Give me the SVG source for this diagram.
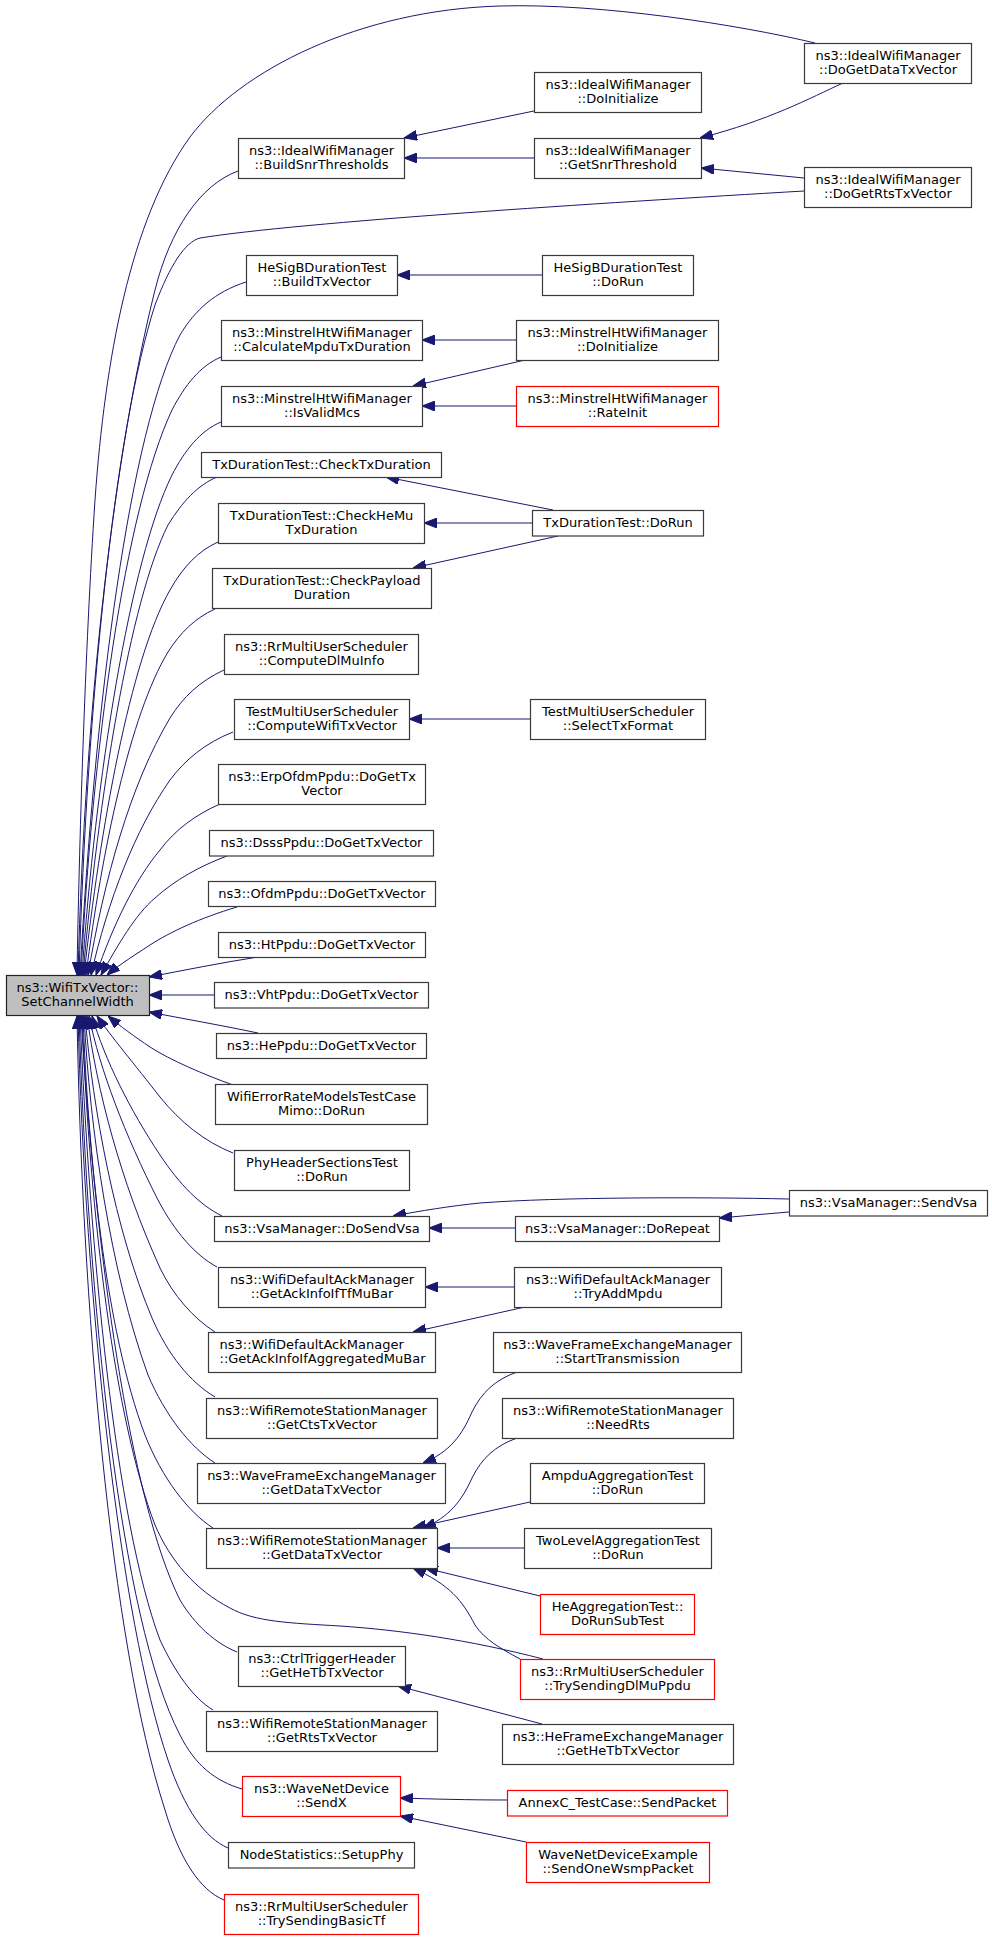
<svg xmlns="http://www.w3.org/2000/svg" width="992" height="1939" viewBox="0 0 992 1939">
<defs>
<marker id="arr" viewBox="0 0 13 10" refX="13" refY="5" markerWidth="13" markerHeight="10" markerUnits="userSpaceOnUse" orient="auto">
<path d="M0,0 L13,5 L0,10 z" fill="#191970" stroke="#191970" stroke-width="1"/>
</marker>
<style>
rect{fill:#ffffff;stroke:#3a3a3a;stroke-width:1.2}
.red rect{stroke:#ff0000}
.gray rect{fill:#bfbfbf;stroke:#222222}
text{font-family:"DejaVu Sans","Noto Sans",sans-serif;font-size:13px;text-anchor:middle;fill:#000000}
.l text{text-anchor:start}
#edges path{fill:none;stroke:#191970;stroke-width:1;marker-end:url(#arr)}
</style>
</defs>
<rect x="0" y="0" width="992" height="1939" style="fill:#ffffff;stroke:none"/>
<g id="edges">
<path d="M815,43 C740,25 600,3 500,6 C360,10 240,70 190,137 C130,220 105,360 95,500 C85,650 79,850 77,975"/>
<path d="M238,171 C200,185 170,230 155,290 C115,450 85,700 78,975"/>
<path d="M804,191 C600,203 300,222 200,238 C185,242 170,265 155,305 C115,430 87,700 79,975"/>
<path d="M246,282 C215,292 195,310 180,335 C130,430 95,700 80,975"/>
<path d="M221,357 C200,366 185,385 172,410 C125,510 92,750 81,975"/>
<path d="M221,422 C200,431 185,450 172,475 C130,560 95,780 82,975"/>
<path d="M217,477 C198,485 182,502 168,525 C130,600 98,800 83,975"/>
<path d="M218,542 C198,551 183,567 170,590 C130,660 100,830 84,975"/>
<path d="M215,609 C195,618 180,633 168,652 C130,715 102,850 86,975"/>
<path d="M224,670 C200,681 183,697 170,718 C130,785 104,880 88,975"/>
<path d="M233,732 C205,743 185,760 170,780 C135,830 108,900 91,975"/>
<path d="M220,804 C195,815 175,830 160,850 C135,880 113,925 96,975"/>
<path d="M227,856 C200,866 175,880 155,898 C135,915 118,945 101,975"/>
<path d="M237,907 C200,918 170,932 150,945 C130,958 115,968 107,975"/>
<path d="M258,957 C220,963 185,970 149,977"/>
<path d="M214,995 L149,995"/>
<path d="M258,1033 C220,1025 185,1019 149,1012"/>
<path d="M233,1085 C205,1075 170,1060 150,1047 C135,1037 120,1026 108,1016"/>
<path d="M233,1153 C205,1142 180,1122 160,1097 C135,1065 110,1035 97,1016"/>
<path d="M222,1216 C200,1205 180,1185 160,1155 C130,1110 105,1060 92,1016"/>
<path d="M217,1267 C195,1255 175,1232 158,1200 C125,1135 100,1070 89,1016"/>
<path d="M215,1332 C193,1318 173,1295 160,1268 C120,1180 97,1090 87,1016"/>
<path d="M215,1397 C190,1382 168,1355 152,1318 C115,1230 93,1110 85,1016"/>
<path d="M215,1463 C190,1447 165,1415 148,1375 C110,1270 90,1130 84,1016"/>
<path d="M213,1528 C188,1512 162,1478 145,1435 C105,1330 88,1150 83,1016"/>
<path d="M543,1659 C470,1640 400,1630 340,1626 C290,1623 255,1622 230,1608 C195,1590 170,1560 155,1525 C115,1420 90,1220 82,1016"/>
<path d="M237,1652 C215,1643 195,1625 180,1600 C130,1500 95,1250 81,1016"/>
<path d="M213,1710 C193,1698 175,1672 160,1640 C115,1520 90,1250 80,1016"/>
<path d="M242,1789 C215,1781 195,1765 180,1735 C120,1620 88,1300 79,1016"/>
<path d="M228,1848 C205,1838 185,1810 168,1760 C120,1620 85,1300 78,1016"/>
<path d="M224,1900 C200,1890 180,1860 165,1810 C110,1640 82,1300 77,1016"/>
<path d="M534,111 L404,138"/>
<path d="M534,158 L404,158"/>
<path d="M843,83 C810,98 770,120 700,138"/>
<path d="M804,178 L701,168"/>
<path d="M542,275 L397,275"/>
<path d="M516,340 L422,340"/>
<path d="M525,360 L413,386"/>
<path d="M516,406 L422,406"/>
<path d="M553,510 L386,477"/>
<path d="M532,523 L424,523"/>
<path d="M558,536 L413,568"/>
<path d="M530,719 L409,719"/>
<path d="M789,1199 C700,1197 560,1197 480,1203 C450,1206 420,1211 393,1216"/>
<path d="M515,1228 L429,1228"/>
<path d="M789,1212 L719,1218"/>
<path d="M514,1287 L425,1287"/>
<path d="M525,1307 L413,1332"/>
<path d="M517,1372 C495,1380 482,1392 472,1412 C462,1435 450,1452 423,1463"/>
<path d="M517,1438 C495,1446 482,1458 472,1478 C462,1500 450,1517 423,1528"/>
<path d="M530,1502 L413,1528"/>
<path d="M524,1548 L437,1548"/>
<path d="M540,1596 L425,1568"/>
<path d="M520,1659 C500,1648 485,1640 475,1625 C462,1600 450,1585 413,1568"/>
<path d="M542,1724 L398,1686"/>
<path d="M507,1800 C470,1800 430,1799 400,1798"/>
<path d="M526,1842 L400,1816"/>
</g>
<g id="nodes" transform="translate(0.5,0.5)">
<g id="n_setchannelwidth" class="gray"><rect x="6" y="975" width="143" height="40"/><text x="77" y="991.5">ns3::WifiTxVector::</text><text x="77" y="1005">SetChannelWidth</text></g>
<g id="n_idealdogetdata"><rect x="804" y="43" width="167" height="40"/><text x="887.5" y="59.5">ns3::IdealWifiManager</text><text x="887.5" y="73">::DoGetDataTxVector</text></g>
<g id="n_idealdoinit"><rect x="534" y="72" width="167" height="40"/><text x="617.5" y="88.5">ns3::IdealWifiManager</text><text x="617.5" y="102">::DoInitialize</text></g>
<g id="n_buildsnr"><rect x="238" y="138" width="166" height="40"/><text x="321" y="154.5">ns3::IdealWifiManager</text><text x="321" y="168">::BuildSnrThresholds</text></g>
<g id="n_getsnr"><rect x="534" y="138" width="167" height="40"/><text x="617.5" y="154.5">ns3::IdealWifiManager</text><text x="617.5" y="168">::GetSnrThreshold</text></g>
<g id="n_idealdogetrts"><rect x="804" y="167" width="167" height="40"/><text x="887.5" y="183.5">ns3::IdealWifiManager</text><text x="887.5" y="197">::DoGetRtsTxVector</text></g>
<g id="n_hesigbbuild"><rect x="246" y="255" width="151" height="40"/><text x="321.5" y="271.5">HeSigBDurationTest</text><text x="321.5" y="285">::BuildTxVector</text></g>
<g id="n_hesigbdorun"><rect x="542" y="255" width="151" height="40"/><text x="617.5" y="271.5">HeSigBDurationTest</text><text x="617.5" y="285">::DoRun</text></g>
<g id="n_calcmpdu"><rect x="221" y="320" width="201" height="40"/><text x="321.5" y="336.5">ns3::MinstrelHtWifiManager</text><text x="321.5" y="350">::CalculateMpduTxDuration</text></g>
<g id="n_minstreldoinit"><rect x="516" y="320" width="202" height="40"/><text x="617" y="336.5">ns3::MinstrelHtWifiManager</text><text x="617" y="350">::DoInitialize</text></g>
<g id="n_isvalidmcs"><rect x="221" y="386" width="201" height="40"/><text x="321.5" y="402.5">ns3::MinstrelHtWifiManager</text><text x="321.5" y="416">::IsValidMcs</text></g>
<g id="n_rateinit" class="red"><rect x="516" y="386" width="202" height="40"/><text x="617" y="402.5">ns3::MinstrelHtWifiManager</text><text x="617" y="416">::RateInit</text></g>
<g id="n_checktx"><rect x="201" y="452" width="240" height="25"/><text x="321" y="468">TxDurationTest::CheckTxDuration</text></g>
<g id="n_checkhemu"><rect x="218" y="503" width="206" height="40"/><text x="321" y="519.5">TxDurationTest::CheckHeMu</text><text x="321" y="533">TxDuration</text></g>
<g id="n_txdorun"><rect x="532" y="510" width="171" height="25.5"/><text x="617.5" y="526">TxDurationTest::DoRun</text></g>
<g id="n_checkpayload"><rect x="212" y="568" width="219" height="40"/><text x="321.5" y="584.5">TxDurationTest::CheckPayload</text><text x="321.5" y="598">Duration</text></g>
<g id="n_computedlmu"><rect x="224" y="634" width="194" height="40"/><text x="321" y="650.5">ns3::RrMultiUserScheduler</text><text x="321" y="664">::ComputeDlMuInfo</text></g>
<g id="n_computewifi"><rect x="234" y="699" width="175" height="40"/><text x="321.5" y="715.5">TestMultiUserScheduler</text><text x="321.5" y="729">::ComputeWifiTxVector</text></g>
<g id="n_selecttx"><rect x="530" y="699" width="175" height="40"/><text x="617.5" y="715.5">TestMultiUserScheduler</text><text x="617.5" y="729">::SelectTxFormat</text></g>
<g id="n_erpofdm"><rect x="218" y="764" width="207" height="40"/><text x="321.5" y="780.5">ns3::ErpOfdmPpdu::DoGetTx</text><text x="321.5" y="794">Vector</text></g>
<g id="n_dsss"><rect x="209" y="830" width="224" height="25.5"/><text x="321" y="846">ns3::DsssPpdu::DoGetTxVector</text></g>
<g id="n_ofdm"><rect x="208" y="881" width="227" height="25"/><text x="321.5" y="897">ns3::OfdmPpdu::DoGetTxVector</text></g>
<g id="n_ht"><rect x="218" y="932" width="207" height="25"/><text x="321.5" y="948">ns3::HtPpdu::DoGetTxVector</text></g>
<g id="n_vht"><rect x="214" y="982" width="214" height="25.5"/><text x="321" y="998">ns3::VhtPpdu::DoGetTxVector</text></g>
<g id="n_he"><rect x="216" y="1033" width="210" height="25"/><text x="321" y="1049">ns3::HePpdu::DoGetTxVector</text></g>
<g id="n_wifierror"><rect x="215" y="1084" width="212" height="40"/><text x="321" y="1100.5">WifiErrorRateModelsTestCase</text><text x="321" y="1114">Mimo::DoRun</text></g>
<g id="n_phyheader"><rect x="234" y="1150" width="175" height="40"/><text x="321.5" y="1166.5">PhyHeaderSectionsTest</text><text x="321.5" y="1180">::DoRun</text></g>
<g id="n_dosendvsa"><rect x="214" y="1216" width="215" height="25"/><text x="321.5" y="1232">ns3::VsaManager::DoSendVsa</text></g>
<g id="n_sendvsa"><rect x="789" y="1190" width="198" height="25.5"/><text x="888" y="1206">ns3::VsaManager::SendVsa</text></g>
<g id="n_dorepeat"><rect x="515" y="1216" width="204" height="25"/><text x="617" y="1232">ns3::VsaManager::DoRepeat</text></g>
<g id="n_tfmubar"><rect x="218" y="1267" width="207" height="40"/><text x="321.5" y="1283.5">ns3::WifiDefaultAckManager</text><text x="321.5" y="1297">::GetAckInfoIfTfMuBar</text></g>
<g id="n_tryaddmpdu"><rect x="514" y="1267" width="207" height="40"/><text x="617.5" y="1283.5">ns3::WifiDefaultAckManager</text><text x="617.5" y="1297">::TryAddMpdu</text></g>
<g id="n_aggmubar" class="l"><rect x="208" y="1332" width="227" height="40"/><text x="219" y="1348.5">ns3::WifiDefaultAckManager</text><text x="219" y="1362">::GetAckInfoIfAggregatedMuBar</text></g>
<g id="n_starttx"><rect x="493" y="1332" width="248" height="40"/><text x="617" y="1348.5">ns3::WaveFrameExchangeManager</text><text x="617" y="1362">::StartTransmission</text></g>
<g id="n_getcts"><rect x="206" y="1398" width="231" height="40"/><text x="321.5" y="1414.5">ns3::WifiRemoteStationManager</text><text x="321.5" y="1428">::GetCtsTxVector</text></g>
<g id="n_needrts"><rect x="502" y="1398" width="231" height="40"/><text x="617.5" y="1414.5">ns3::WifiRemoteStationManager</text><text x="617.5" y="1428">::NeedRts</text></g>
<g id="n_wavegetdata"><rect x="197" y="1463" width="248" height="40"/><text x="321" y="1479.5">ns3::WaveFrameExchangeManager</text><text x="321" y="1493">::GetDataTxVector</text></g>
<g id="n_ampdu"><rect x="530" y="1463" width="174" height="40"/><text x="617" y="1479.5">AmpduAggregationTest</text><text x="617" y="1493">::DoRun</text></g>
<g id="n_wrsmgetdata"><rect x="206" y="1528" width="231" height="40"/><text x="321.5" y="1544.5">ns3::WifiRemoteStationManager</text><text x="321.5" y="1558">::GetDataTxVector</text></g>
<g id="n_twolevel"><rect x="524" y="1528" width="187" height="40"/><text x="617.5" y="1544.5">TwoLevelAggregationTest</text><text x="617.5" y="1558">::DoRun</text></g>
<g id="n_heagg" class="red"><rect x="540" y="1594" width="154" height="40"/><text x="617" y="1610.5">HeAggregationTest::</text><text x="617" y="1624">DoRunSubTest</text></g>
<g id="n_ctrltrigger"><rect x="238" y="1646" width="167" height="40"/><text x="321.5" y="1662.5">ns3::CtrlTriggerHeader</text><text x="321.5" y="1676">::GetHeTbTxVector</text></g>
<g id="n_dlmuppdu" class="red"><rect x="520" y="1659" width="194" height="40"/><text x="617" y="1675.5">ns3::RrMultiUserScheduler</text><text x="617" y="1689">::TrySendingDlMuPpdu</text></g>
<g id="n_getrts"><rect x="206" y="1711" width="231" height="40"/><text x="321.5" y="1727.5">ns3::WifiRemoteStationManager</text><text x="321.5" y="1741">::GetRtsTxVector</text></g>
<g id="n_hefex"><rect x="502" y="1724" width="231" height="40"/><text x="617.5" y="1740.5">ns3::HeFrameExchangeManager</text><text x="617.5" y="1754">::GetHeTbTxVector</text></g>
<g id="n_sendx" class="red"><rect x="242" y="1776" width="158" height="40"/><text x="321" y="1792.5">ns3::WaveNetDevice</text><text x="321" y="1806">::SendX</text></g>
<g id="n_annexc" class="red"><rect x="507" y="1790" width="220" height="25.5"/><text x="617" y="1806">AnnexC_TestCase::SendPacket</text></g>
<g id="n_setupphy"><rect x="228" y="1842" width="186" height="25.5"/><text x="321" y="1858">NodeStatistics::SetupPhy</text></g>
<g id="n_wndexample" class="red"><rect x="526" y="1842" width="183" height="40"/><text x="617.5" y="1858.5">WaveNetDeviceExample</text><text x="617.5" y="1872">::SendOneWsmpPacket</text></g>
<g id="n_basictf" class="red"><rect x="224" y="1894" width="194" height="40"/><text x="321" y="1910.5">ns3::RrMultiUserScheduler</text><text x="321" y="1924">::TrySendingBasicTf</text></g>
</g>
</svg>
